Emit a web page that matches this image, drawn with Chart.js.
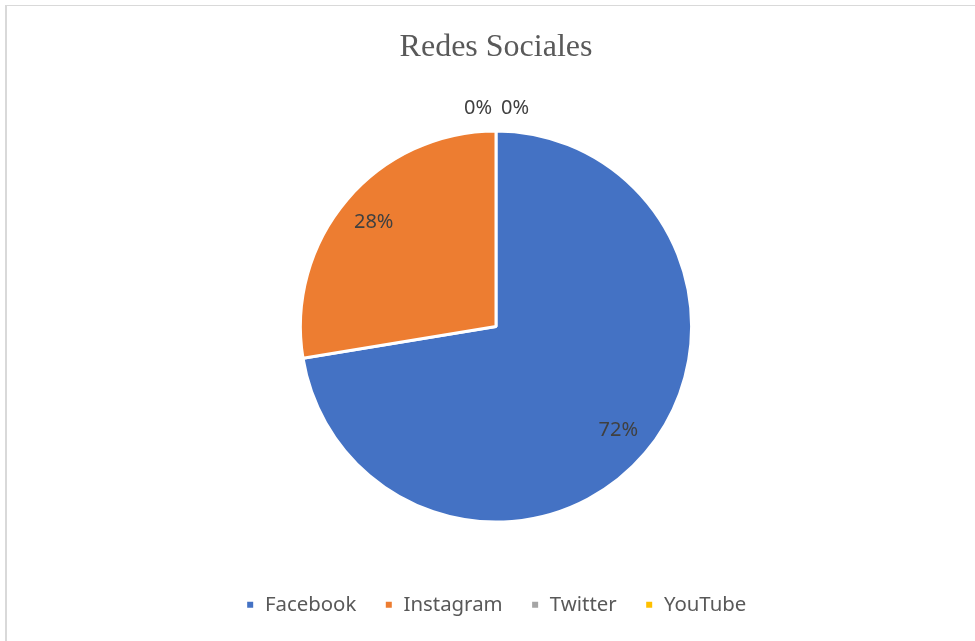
<!DOCTYPE html>
<html>
<head>
<meta charset="utf-8">
<script src="https://cdn.jsdelivr.net/npm/chart.js@4.4.1/dist/chart.umd.min.js"></script>
<style>
  body { margin: 0; background: #fff; }
  #frame { position: absolute; left: 5px; top: 5px; width: 990px; height: 660px;
           border-top: 1px solid #d9d9d9; border-left: 2px solid #d9d9d9; }
  #myChart { position: absolute; left: 0; top: 0; }
</style>
</head>
<body>
<div id="frame"></div>
<canvas id="myChart" width="975" height="641"></canvas>
<script>
// datos del gráfico
const redes = ['Facebook', 'Instagram', 'Twitter', 'YouTube'];
const porcentajes = [72.4, 27.6, 0, 0];
const colores = ['#4472C4', '#ED7D31', '#A5A5A5', '#FFC000'];

// etiquetas de porcentaje sobre cada porción
const etiquetas = {
  id: 'etiquetas',
  afterDatasetsDraw(chart) {
    const ctx = chart.ctx;
    const meta = chart.getDatasetMeta(0);
    const total = porcentajes.reduce((a, b) => a + b, 0);
    let ceros = 0;
    ctx.save();
    ctx.font = '20px "Noto Sans"';
    ctx.fillStyle = '#404040';
    ctx.textAlign = 'center';
    ctx.textBaseline = 'middle';
    meta.data.forEach((arc, i) => {
      const p = arc.getProps(['x', 'y', 'startAngle', 'endAngle', 'outerRadius'], true);
      const txt = Math.round(porcentajes[i] / total * 100) + '%';
      const mid = (p.startAngle + p.endAngle) / 2;
      if (porcentajes[i] > 0) {
        const r = p.outerRadius * 0.82;
        ctx.fillText(txt, p.x + Math.cos(mid) * r, p.y + Math.sin(mid) * r);
      } else {
        // porciones vacías: fuera del círculo, una a cada lado
        const r = p.outerRadius + 23;
        const dx = ceros % 2 === 0 ? -18 : 19;
        ceros++;
        ctx.fillText(txt, p.x + Math.cos(mid) * r + dx, p.y + Math.sin(mid) * r);
      }
    });
    ctx.restore();
  }
};

Chart.defaults.font.family = '"Noto Sans"';

new Chart(document.getElementById('myChart'), {
  type: 'pie',
  data: {
    labels: redes,
    datasets: [{
      data: porcentajes,
      backgroundColor: colores,
      borderColor: '#ffffff',
      borderWidth: 3
    }]
  },
  options: {
    responsive: false,
    animation: false,
    layout: { padding: { left: 17, right: 0, top: 0, bottom: 16 } },
    plugins: {
      title: {
        display: true,
        text: 'Redes Sociales',
        color: '#595959',
        font: { family: '"Liberation Serif"', size: 32, weight: 'normal' },
        padding: { top: 28, bottom: 63 }
      },
      legend: {
        position: 'bottom',
        // título vacío solo para dejar espacio sobre la leyenda
        title: { display: true, text: '', font: { size: 10 }, padding: { top: 31, bottom: 0 } },
        labels: {
          boxWidth: 9,
          boxHeight: 9,
          padding: 28,
          color: '#595959',
          font: { size: 20.4 }
        }
      },
      tooltip: { enabled: false }
    }
  },
  plugins: [etiquetas]
});
</script>
</body>
</html>
